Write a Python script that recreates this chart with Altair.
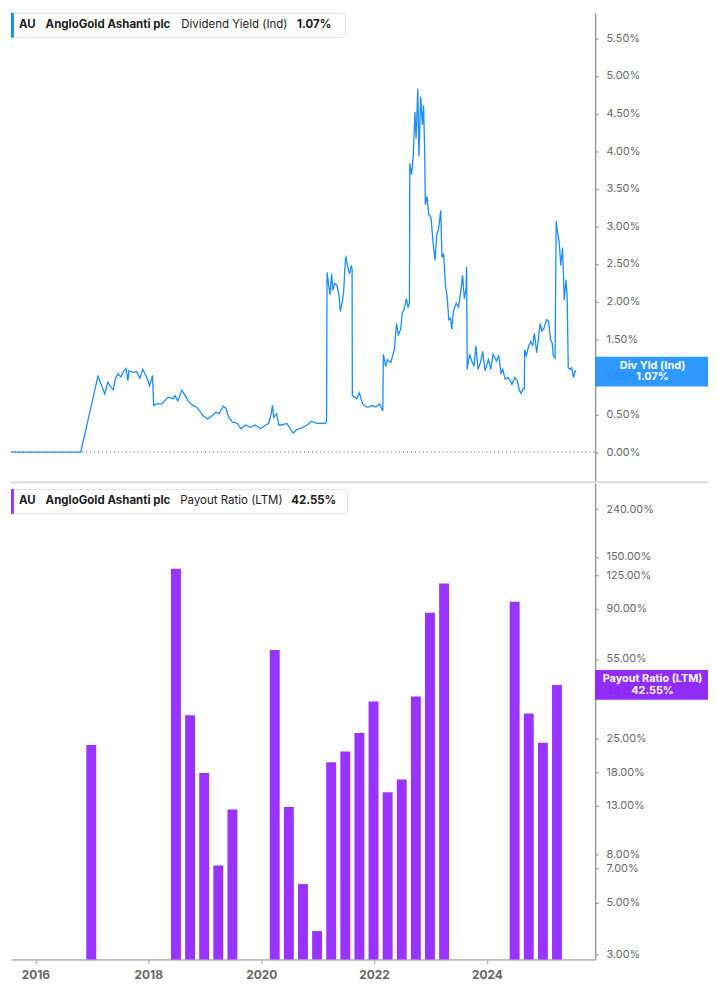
import altair as alt
import pandas as pd

FONT = "Inter"

# ---------------- data ----------------
ticker = "AU"
company = "AngloGold Ashanti plc"
yield_name = "Dividend Yield (Ind)"
yield_short = "Div Yld (Ind)"
yield_last = 1.07
payout_name = "Payout Ratio (LTM)"
payout_last = 42.55

div_years = [
    2015.66, 2016.87, 2017.17, 2017.23, 2017.29, 2017.34, 2017.40, 2017.44, 2017.47, 2017.52,
    2017.57, 2017.62, 2017.66, 2017.69, 2017.71, 2017.79, 2017.84, 2017.90, 2017.95, 2018.02,
    2018.07, 2018.12, 2018.14, 2018.19, 2018.28, 2018.33, 2018.39, 2018.48, 2018.51, 2018.56,
    2018.63, 2018.69, 2018.74, 2018.82, 2018.88, 2018.94, 2018.99, 2019.08, 2019.17, 2019.22,
    2019.28, 2019.35, 2019.40, 2019.45, 2019.51, 2019.60, 2019.66, 2019.74, 2019.83, 2019.91,
    2020.00, 2020.09, 2020.14, 2020.18, 2020.21, 2020.23, 2020.28, 2020.32, 2020.37, 2020.46,
    2020.57, 2020.63, 2020.72, 2020.81, 2020.89, 2020.98, 2021.06, 2021.13, 2021.15, 2021.16,
    2021.17, 2021.21, 2021.24, 2021.26, 2021.29, 2021.33, 2021.37, 2021.39, 2021.43, 2021.45,
    2021.48, 2021.49, 2021.52, 2021.55, 2021.58, 2021.595, 2021.60, 2021.64, 2021.68, 2021.72,
    2021.78, 2021.84, 2021.90, 2021.95, 2022.01, 2022.07, 2022.13, 2022.14, 2022.18, 2022.21,
    2022.27, 2022.33, 2022.37, 2022.40, 2022.44, 2022.47, 2022.50, 2022.54, 2022.57, 2022.595,
    2022.60, 2022.63, 2022.66, 2022.69, 2022.71, 2022.74, 2022.76, 2022.79, 2022.82, 2022.84,
    2022.86, 2022.87, 2022.90, 2022.93, 2022.97, 2023.01, 2023.04, 2023.07, 2023.10, 2023.14,
    2023.16, 2023.19, 2023.22, 2023.25, 2023.28, 2023.31, 2023.33, 2023.36, 2023.41, 2023.45,
    2023.49, 2023.52, 2023.55, 2023.58, 2023.59, 2023.60, 2023.64, 2023.68, 2023.72, 2023.75,
    2023.79, 2023.83, 2023.87, 2023.91, 2023.97, 2024.01, 2024.05, 2024.11, 2024.15, 2024.19,
    2024.22, 2024.26, 2024.31, 2024.35, 2024.38, 2024.43, 2024.47, 2024.51, 2024.54, 2024.57,
    2024.595, 2024.60, 2024.63, 2024.67, 2024.71, 2024.74, 2024.77, 2024.81, 2024.84, 2024.87,
    2024.90, 2024.94, 2024.98, 2025.02, 2025.05, 2025.08, 2025.10, 2025.13, 2025.15, 2025.17,
    2025.20, 2025.23, 2025.26, 2025.29, 2025.32, 2025.34, 2025.36, 2025.39, 2025.42, 2025.45,
    2025.48, 2025.50,
]
div_values = [
    0.00, 0.00, 1.01, 0.89, 0.77, 0.93, 0.86, 0.83, 0.97, 1.04,
    1.00, 1.08, 1.11, 0.95, 1.08, 1.06, 1.07, 0.98, 1.10, 0.99,
    0.88, 1.02, 0.62, 0.64, 0.64, 0.68, 0.73, 0.71, 0.75, 0.68,
    0.82, 0.75, 0.68, 0.62, 0.60, 0.55, 0.49, 0.44, 0.49, 0.53,
    0.51, 0.61, 0.58, 0.46, 0.40, 0.38, 0.31, 0.36, 0.33, 0.36,
    0.31, 0.36, 0.38, 0.49, 0.62, 0.46, 0.51, 0.36, 0.36, 0.38,
    0.25, 0.30, 0.32, 0.36, 0.41, 0.38, 0.38, 0.38, 0.40, 2.39,
    2.33, 2.09, 2.37, 2.15, 2.24, 2.22, 2.07, 1.87, 2.02, 2.15,
    2.57, 2.59, 2.46, 2.37, 2.48, 2.44, 0.75, 0.73, 0.71, 0.79,
    0.64, 0.60, 0.60, 0.62, 0.60, 0.64, 0.55, 1.30, 1.14, 1.23,
    1.19, 1.36, 1.71, 1.56, 1.63, 1.85, 1.89, 2.04, 1.93, 1.98,
    3.84, 3.69, 3.93, 4.52, 4.17, 4.83, 3.93, 4.72, 4.35, 4.61,
    4.00, 3.29, 3.40, 3.16, 3.12, 2.75, 2.55, 2.90, 2.96, 3.21,
    2.59, 2.64, 2.22, 2.07, 1.76, 1.78, 1.63, 1.87, 1.98, 1.93,
    2.15, 2.35, 2.04, 2.17, 2.46, 1.10, 1.30, 1.21, 1.14, 1.41,
    1.10, 1.19, 1.34, 1.08, 1.23, 1.10, 1.30, 1.21, 1.28, 1.04,
    1.10, 0.97, 0.99, 0.95, 0.90, 0.99, 0.95, 0.82, 0.78, 0.84,
    0.84, 1.36, 1.28, 1.41, 1.47, 1.41, 1.58, 1.32, 1.50, 1.71,
    1.61, 1.65, 1.76, 1.74, 1.50, 1.45, 1.28, 1.25, 3.07, 2.94,
    2.81, 2.48, 2.72, 2.02, 2.29, 2.09, 1.12, 1.10, 1.12, 0.99,
    1.08, 1.07,
]

payout_years = [
    2016.99, 2018.49, 2018.74, 2018.99, 2019.24, 2019.49,
    2020.24, 2020.49, 2020.74, 2020.99, 2021.24, 2021.49, 2021.74, 2021.99,
    2022.24, 2022.49, 2022.74, 2022.99, 2023.24,
    2024.49, 2024.74, 2024.99, 2025.24,
]
payout_values = [
    23.6, 133.5, 31.6, 17.9, 7.2, 12.5,
    60.0, 12.8, 6.0, 3.78, 19.9, 22.1, 26.5, 36.2,
    14.8, 16.8, 38.0, 86.7, 115.5,
    96.4, 32.1, 24.1, 42.55,
]

x_ticks = [2016, 2018, 2020, 2022, 2024]
yield_ticks = [0.0, 0.5, 1.0, 1.5, 2.0, 2.5, 3.0, 3.5, 4.0, 4.5, 5.0, 5.5]
payout_ticks = [3, 5, 7, 8, 13, 18, 25, 40, 55, 90, 125, 150, 240]

# ---------------- layout constants ----------------
W = 590
H_TOP = 474
H_BOT = 481
X_DOMAIN = [2015.655, 2025.828]
Y_TOP_DOMAIN = [-0.4, 5.84]
Y_BOT_DOMAIN = [2.86, 310]
BLUE = "#1a8cff"
BLUE_BOX = "#1e90ff"
PURPLE = "#9933ff"
PURPLE_BOX = "#8a1cf7"
BOX_RIGHT = 704

div_df = pd.DataFrame({"year": div_years, "value": div_values})
pay_df = pd.DataFrame({"year": payout_years, "value": payout_values})
one = pd.DataFrame({"a": [0]})

label_expr = "format(datum.value, '.2f') + '%'"


def right_axis(values):
    return alt.Axis(
        orient="right", values=values, labelExpr=label_expr, grid=False, title=None,
        domainColor="#9a9a9a", domainWidth=1.5, tickColor="#888", tickSize=3,
        labelColor="#666", labelFontSize=11, labelFont=FONT, labelPadding=8,
    )


def legend_layer(y0, color, series_name, value_text, xs):
    box = alt.Chart(one).mark_rect(
        fill="white", stroke="#e2e2e2", strokeWidth=1, cornerRadius=3
    ).encode(x=alt.value(0.5), x2=alt.value(xs[4]), y=alt.value(y0 + 0.5), y2=alt.value(y0 + 25))
    stripe = alt.Chart(one).mark_rect(fill=color).encode(
        x=alt.value(0), x2=alt.value(3), y=alt.value(y0), y2=alt.value(y0 + 25)
    )
    items = [(ticker, "bold", xs[0]), (company, "bold", xs[1]),
             (series_name, "normal", xs[2]), (value_text, "bold", xs[3])]
    texts = [
        alt.Chart(one).mark_text(
            align="left", baseline="middle", font=FONT, fontSize=11.6,
            fontWeight=w, color="#1c1c1c"
        ).encode(x=alt.value(xx), y=alt.value(y0 + 12.5), text=alt.value(t))
        for t, w, xx in items
    ]
    return [box, stripe] + texts


def value_box(df, yscale, yaxis, color, line1, line2):
    rect = alt.Chart(df).mark_rect(color=color, opacity=0.93, yOffset=-15, y2Offset=15).encode(
        x=alt.value(W), x2=alt.value(BOX_RIGHT),
        y=alt.Y("v:Q", scale=yscale, axis=yaxis), y2="v:Q",
    )
    t1 = alt.Chart(df).mark_text(
        font=FONT, fontSize=11, fontWeight="bold", color="white", dy=-6, align="center"
    ).encode(x=alt.value(648), y=alt.Y("v:Q", scale=yscale, axis=yaxis), text=alt.value(line1))
    t2 = alt.Chart(df).mark_text(
        font=FONT, fontSize=11, fontWeight="bold", color="white", dy=6, align="center"
    ).encode(x=alt.value(648), y=alt.Y("v:Q", scale=yscale, axis=yaxis), text=alt.value(line2))
    return [rect, t1, t2]


# ---------------- top panel ----------------
x_scale = alt.Scale(domain=X_DOMAIN, nice=False, zero=False)
y_top_scale = alt.Scale(domain=Y_TOP_DOMAIN, nice=False, zero=False)
y_top_axis = right_axis(yield_ticks)

line = alt.Chart(div_df).mark_line(color=BLUE, strokeWidth=1.3).encode(
    x=alt.X("year:Q", scale=x_scale, axis=None),
    y=alt.Y("value:Q", scale=y_top_scale, axis=y_top_axis),
)
zero_rule = alt.Chart(pd.DataFrame({"v": [0.0]})).mark_rule(
    color="#555", strokeDash=[1, 3], strokeWidth=1
).encode(y=alt.Y("v:Q", scale=y_top_scale, axis=y_top_axis), x=alt.value(0), x2=alt.value(W))
separator = alt.Chart(one).mark_rule(color="#dcdcdc", strokeWidth=2).encode(
    x=alt.value(0), x2=alt.value(BOX_RIGHT), y=alt.value(H_TOP)
)

top_layers = [zero_rule, line, separator]
top_layers += value_box(pd.DataFrame({"v": [yield_last]}), y_top_scale, y_top_axis, BLUE_BOX,
                        yield_short, f"{yield_last:.2f}%")
top_layers += legend_layer(0, BLUE, yield_name, f"{yield_last:.2f}%", [8, 35, 172, 289, 338])
top = alt.layer(*top_layers).properties(width=W, height=H_TOP)

# ---------------- bottom panel ----------------
y_bot_scale = alt.Scale(type="log", domain=Y_BOT_DOMAIN, nice=False)
y_bot_axis = right_axis(payout_ticks)

bars = alt.Chart(pay_df).mark_bar(color=PURPLE, size=10).encode(
    x=alt.X("year:Q", scale=x_scale, axis=alt.Axis(
        values=x_ticks, format="d", grid=False, title=None,
        labelFont=FONT, labelFontSize=12, labelFontWeight="bold", labelColor="#666",
        tickColor="#999", tickSize=4, domainColor="#bdbdbd", domainWidth=2, labelPadding=6,
    )),
    y=alt.Y("value:Q", scale=y_bot_scale, axis=y_bot_axis),
    y2=alt.Y2(datum=Y_BOT_DOMAIN[0]),
)

bot_layers = [bars]
bot_layers += value_box(pd.DataFrame({"v": [payout_last]}), y_bot_scale, y_bot_axis, PURPLE_BOX,
                        payout_name, f"{payout_last:.2f}%")
bot_layers += legend_layer(6, PURPLE, payout_name, f"{payout_last:.2f}%", [8, 35, 171, 283, 340])
bottom = alt.layer(*bot_layers).properties(width=W, height=H_BOT)

chart = alt.vconcat(top, bottom, spacing=0, padding=0).resolve_scale(
    x="independent", y="independent"
).configure(font=FONT).configure_view(stroke="transparent", strokeWidth=0)

chart.save("out.html", embed_options={"renderer": "svg", "actions": False})
